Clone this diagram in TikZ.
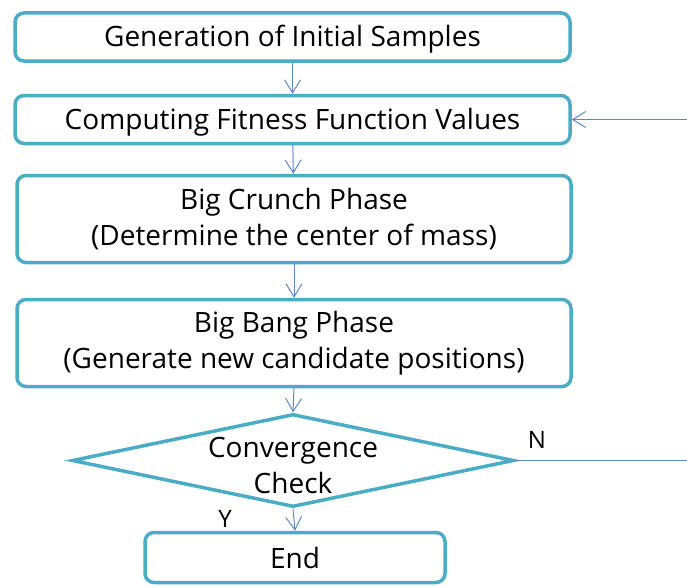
\documentclass[tikz,border=0pt]{standalone}
\usepackage{fontspec}
\setmainfont{Open Sans}
\usetikzlibrary{shapes.geometric,arrows.meta}
\definecolor{boxline}{HTML}{4BACC6}
\definecolor{flow}{HTML}{5F87C6}
\tikzset{
  x=1pt, y=-1pt,
  stepbox/.style={draw=boxline, line width=3.5pt, rounded corners=9pt, fill=white,
    inner sep=0pt, align=center, font=\fontsize{28}{36}\selectfont},
  decision/.style={draw=boxline, line width=3.5pt, diamond, inner sep=0pt, fill=white},
  arr/.style={draw=flow, line width=1pt, -{Straight Barb[length=13pt,width=16pt,line width=1pt]}},
  lbl/.style={font=\fontsize{24}{28}\selectfont, inner sep=0pt}
}
% single-line captions sit a little lower in their boxes
\newcommand\lowered[1]{\raisebox{-3pt}[20pt][6pt]{#1}}
\begin{document}
\begin{tikzpicture}
\useasboundingbox (0,0) rectangle (687,586);
\clip (0,0) rectangle (687,586);
% process boxes
\node[stepbox, minimum width=555pt, minimum height=48pt] (gen) at (292.5,37) {\lowered{Generation of Initial Samples}};
\node[stepbox, minimum width=555pt, minimum height=48pt] (fit) at (292.5,119.5) {\lowered{Computing Fitness Function Values}};
\node[stepbox, minimum width=554pt, minimum height=87pt] (crunch) at (294,219) {Big Crunch Phase\\(Determine the center of mass)};
\node[stepbox, minimum width=554pt, minimum height=87pt] (bang) at (294,343) {Big Bang Phase\\(Generate new candidate positions)};
% convergence test
\node[decision, minimum width=442pt, minimum height=93pt] (conv) at (293,460.5) {};
\node[stepbox, draw=none, fill=none] (convtxt) at (293,465) {Convergence\\Check};
\node[stepbox, minimum width=300pt, minimum height=50pt] (end) at (295,557.5) {End};
% flow
\draw[arr] (gen) -- (fit);
\draw[arr] (fit) -- (crunch);
\draw[arr] (crunch) -- (bang);
\draw[arr] (bang.south) -- (conv.north);
\draw[arr] (conv.south) -- (end.north);
% loop back when not converged
\coordinate (loopa) at (700,460.5);
\coordinate (loopb) at (700,119.5);
\draw[arr] (conv.east) -- (loopa) -- (loopb) -- (fit.east);
\node[lbl] (nlab) at (537,440) {N};
\node[lbl] (ylab) at (225,519) {Y};
\end{tikzpicture}
\end{document}
